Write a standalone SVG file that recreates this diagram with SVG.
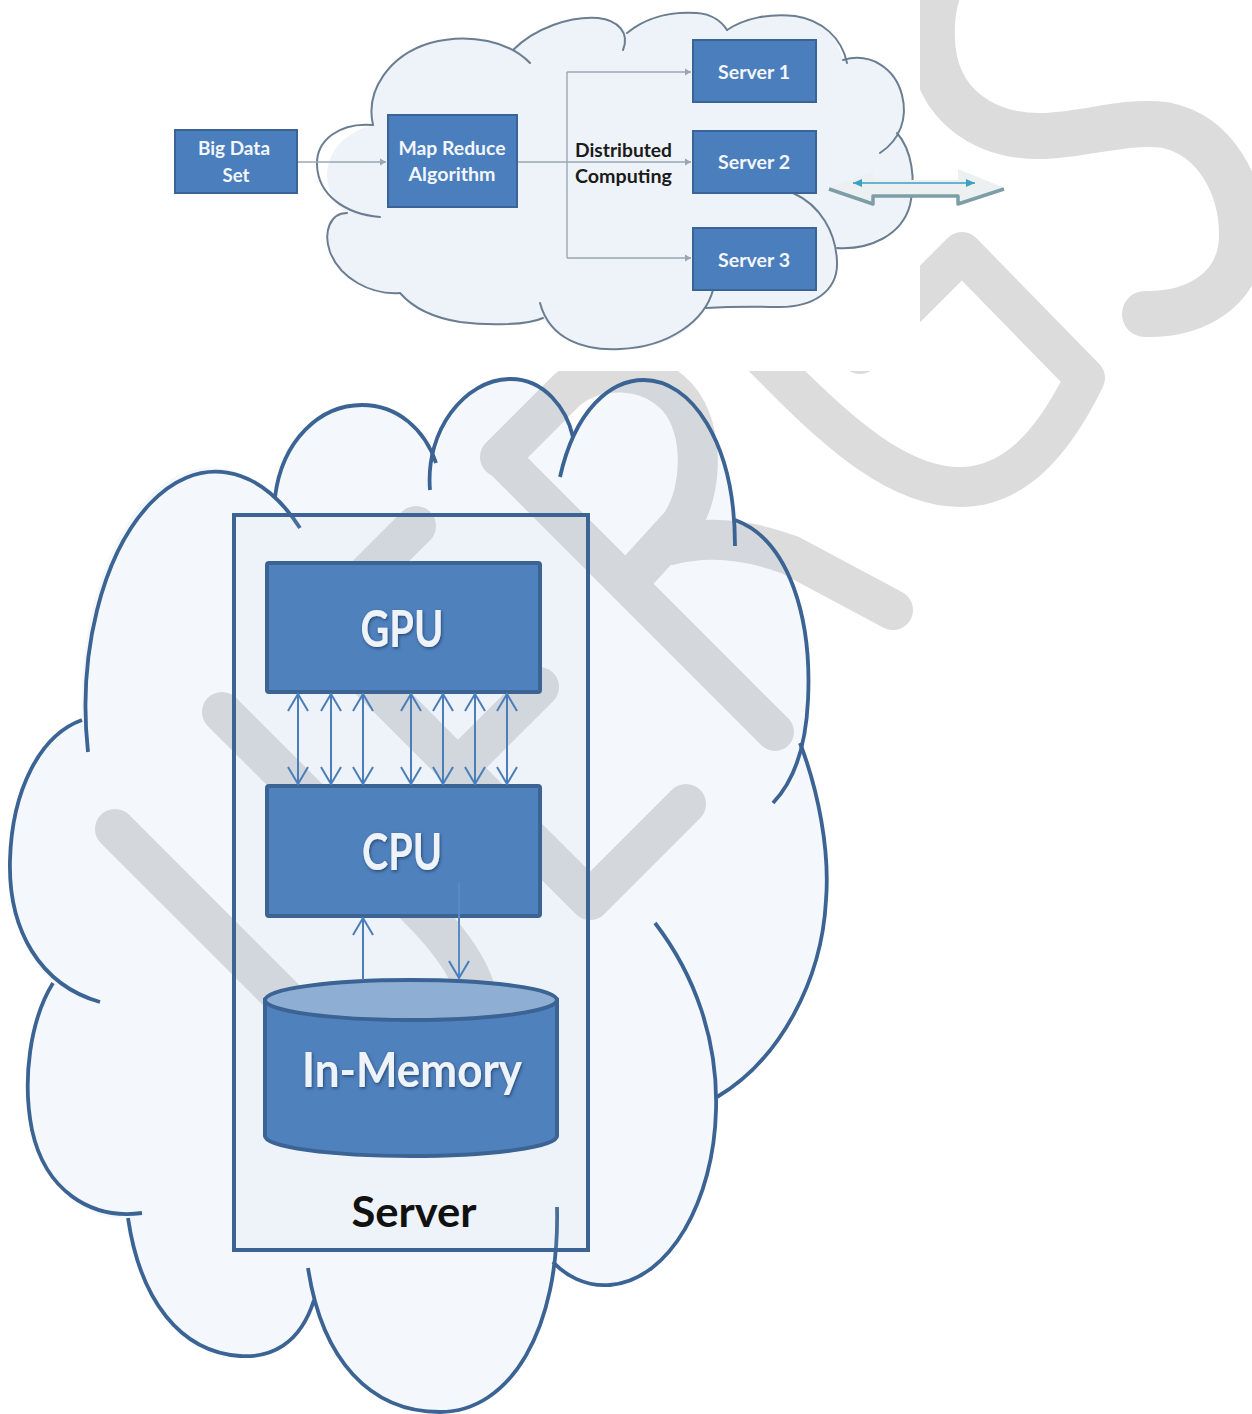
<svg xmlns="http://www.w3.org/2000/svg" width="1252" height="1414" viewBox="0 0 1252 1414">
<defs>
<style>
.wm{fill:none;stroke:#dcdcdc;stroke-width:40;stroke-linecap:round;stroke-linejoin:round}
.tl{fill:none;stroke:#6b7e91;stroke-width:2;stroke-linecap:round}
.tbox{fill:#4a7ebd;stroke:#3a6496;stroke-width:2}
.tt{font-family:Lato,"Liberation Sans",sans-serif;font-weight:700;font-size:18px;fill:#f3f6fb;text-anchor:middle}
.dt{font-family:Lato,"Liberation Sans",sans-serif;font-weight:700;font-size:18px;fill:#1b1b1b}
.conn{fill:none;stroke:#9ba6b1;stroke-width:1.4}
.bc{fill:none;stroke:#3b6494;stroke-width:3.8}
.box{fill:#4f81bd;stroke:#3b6494;stroke-width:4}
.big{font-family:Lato,"Liberation Sans",sans-serif;font-weight:700;fill:#eef3f9;text-anchor:middle}
.arr{fill:none;stroke:#4a7ebb;stroke-width:2}
</style>
<marker id="v" viewBox="-18 -11 20 22" markerWidth="20" markerHeight="22" refX="0" refY="0" orient="auto-start-reverse" markerUnits="userSpaceOnUse"><path d="M-17,-10 L0,0 L-17,10" fill="none" stroke="#4a7ebb" stroke-width="2"/></marker>
<marker id="g" viewBox="-7 -4 8 8" markerWidth="8" markerHeight="8" refX="0" refY="0" orient="auto" markerUnits="userSpaceOnUse"><path d="M-6,-3.5 L0,0 L-6,3.5Z" fill="#9ba6b1"/></marker>
<marker id="t" viewBox="-10 -5 11 10" markerWidth="11" markerHeight="10" refX="0" refY="0" orient="auto-start-reverse" markerUnits="userSpaceOnUse"><path d="M-9,-4 L0,0 L-9,4Z" fill="#3b9fc6"/></marker>
<filter id="sh" x="-20%" y="-30%" width="140%" height="160%"><feDropShadow dx="1" dy="1.5" stdDeviation="1.5" flood-color="#1c355a" flood-opacity="0.75"/></filter>
</defs>
<rect width="1252" height="1414" fill="#ffffff"/>
<g id="watermark">
<path class="wm" d="M115,829 L382,1096"/>
<path class="wm" d="M222,712 L420,910 C470,960 495,1010 470,1050 C452,1078 420,1082 395,1070"/>
<path class="wm" d="M416,526 L316,626 L590,900 L686,804 M458,768 L539,687"/>
<path class="wm" style="stroke-width:38" d="M500,457 L775,732"/>
<path class="wm" d="M500,457 L568,389 C600,365 645,368 672,392 C705,420 705,490 680,525 L630,580"/>
<path class="wm" d="M670,545 C710,535 750,540 790,555 L893,610"/>
<path class="wm" d="M700,294 L780,374 C840,435 900,487 960,487 C1010,487 1050,450 1085,378 L962,252 L860,354"/>
<path class="wm" style="stroke-width:46" d="M990,-60 C945,-45 930,-5 932,40 C934,105 985,138 1045,136 C1090,134 1125,120 1165,125 C1215,135 1242,185 1242,235 C1242,290 1195,315 1145,314"/>
</g>
<rect x="0" y="0" width="920" height="371" fill="#ffffff"/>
<g id="top-cloud">
<path fill="#eef3fa" d="M347,213 C318,195 316,140 373,125 C365,90 390,55 430,43 C470,32 500,40 513,50 C535,28 570,16 598,18 C612,19 622,25 627,33 C645,18 670,11 697,13 C712,14 722,22 727,30 C745,18 770,13 795,16 C822,20 838,38 843,60 C870,52 895,68 902,95 C905,110 902,125 897,133 C912,150 916,180 910,205 C902,230 875,246 837,250 C838,292 812,307 780,307 L706,308 C690,335 660,349 620,349 C585,351 555,338 543,318 C528,325 490,326 460,322 C435,318 413,308 400,293 C370,295 340,278 330,252 C323,232 330,213 347,213 Z"/>
<path class="tl" d="M380,217 C345,214 318,195 317,165 C316,140 340,122 373,125"/>
<path class="tl" d="M373,125 C365,90 390,55 430,43 C470,32 510,42 530,63"/>
<path class="tl" d="M513,50 C535,28 570,16 598,18 C618,20 630,33 623,50"/>
<path class="tl" d="M627,33 C645,18 670,11 697,13 C712,14 722,22 727,30"/>
<path class="tl" d="M727,30 C745,18 770,13 795,16 C822,20 842,38 847,63"/>
<path class="tl" d="M843,60 C870,52 895,68 902,95 C908,118 900,140 880,153"/>
<path class="tl" d="M897,133 C912,150 916,180 910,205 C902,235 870,250 837,248"/>
<path class="tl" d="M793,193 C820,205 836,232 837,262 C838,292 812,307 780,307 C765,307 740,306 706,308"/>
<path class="tl" d="M713,290 C705,320 670,347 620,349 C585,351 550,340 540,303"/>
<path class="tl" d="M543,318 C528,325 490,326 460,322 C435,318 413,308 400,293"/>
<path class="tl" d="M400,293 C370,295 340,278 330,252 C323,232 330,213 347,213"/>
</g>
<g id="top-connectors">
<path class="conn" d="M297,162 L386,162" marker-end="url(#g)"/>
<path class="conn" d="M517,162 L691,162" marker-end="url(#g)"/>
<path class="conn" d="M567,72 L567,258"/>
<path class="conn" d="M567,72 L691,72" marker-end="url(#g)"/>
<path class="conn" d="M567,258 L691,258" marker-end="url(#g)"/>
</g>
<g id="big-data-set">
<rect class="tbox" x="175" y="130" width="122" height="63"/>
<text class="tt" x="234" y="155" textLength="72" lengthAdjust="spacingAndGlyphs">Big Data</text>
<text class="tt" x="236" y="182" textLength="27" lengthAdjust="spacingAndGlyphs">Set</text>
</g>
<g id="map-reduce">
<rect class="tbox" x="388" y="115" width="129" height="92"/>
<text class="tt" x="452" y="155" textLength="107" lengthAdjust="spacingAndGlyphs">Map Reduce</text>
<text class="tt" x="452" y="181" textLength="87" lengthAdjust="spacingAndGlyphs">Algorithm</text>
</g>
<g id="distributed-label">
<text class="dt" x="575" y="157" textLength="97" lengthAdjust="spacingAndGlyphs">Distributed</text>
<text class="dt" x="575" y="183" textLength="97" lengthAdjust="spacingAndGlyphs">Computing</text>
</g>
<g id="server-1">
<rect class="tbox" x="693" y="40" width="123" height="62"/>
<text class="tt" x="754" y="79" textLength="72" lengthAdjust="spacingAndGlyphs">Server 1</text>
</g>
<g id="server-2">
<rect class="tbox" x="693" y="131" width="123" height="62"/>
<text class="tt" x="754" y="169" textLength="72" lengthAdjust="spacingAndGlyphs">Server 2</text>
</g>
<g id="server-3">
<rect class="tbox" x="693" y="228" width="123" height="62"/>
<text class="tt" x="754" y="267" textLength="72" lengthAdjust="spacingAndGlyphs">Server 3</text>
</g>
<g id="double-arrow">
<polygon points="828,188 873,171 873,180 958,180 958,169 1005,188 958,205 958,197 873,197 873,205" fill="#edf0f1"/>
<path d="M829,189 L873,204 L873,196 L958,196 L958,204 L1004,189" fill="none" stroke="#7d9ea7" stroke-width="3.5" stroke-linejoin="round"/>
<path d="M853,183 L975,183" stroke="#3b9fc6" stroke-width="1.6" fill="none" marker-start="url(#t)" marker-end="url(#t)"/>
</g>
<g id="bottom-cloud">
<path fill="#9bbfe3" fill-opacity="0.11" d="M82,720 A130 235 0 0 1 275,497 C282,440 320,405 362,405 C398,405 425,430 434,461 C445,410 475,379 509,379 C545,378 567,410 573,437 C590,400 615,380 644,380 C690,380 733,440 735,520 C790,540 812,620 808,700 C807,720 805,735 800,743 C818,790 830,850 826,900 C822,980 780,1060 717,1097 C716,1200 670,1280 610,1285 C585,1287 565,1275 555,1262 C540,1360 500,1412 440,1412 C370,1412 325,1360 314,1300 C300,1345 270,1358 240,1356 C180,1352 140,1300 128,1218 C90,1222 45,1190 32,1130 C22,1080 30,1020 53,983 C30,960 8,920 10,860 C12,790 40,735 82,720 Z"/>
<path class="bc" d="M88,752 A130 235 0 0 1 300,528"/>
<path class="bc" d="M275,497 C282,440 320,405 362,405 C398,405 425,430 436,463"/>
<path class="bc" d="M430,490 C425,430 465,380 509,379 C545,378 567,410 573,437"/>
<path class="bc" d="M560,477 C575,410 610,380 644,380 C690,380 735,440 735,546"/>
<path class="bc" d="M735,520 C790,540 812,620 808,700 C806,745 795,780 773,803"/>
<path class="bc" d="M800,743 C818,790 830,850 826,900 C822,980 780,1060 717,1097"/>
<path class="bc" d="M655,923 C695,975 718,1040 716,1110 C714,1200 670,1280 610,1285 C585,1287 565,1275 553,1262"/>
<path class="bc" d="M557,1207 C560,1330 510,1412 440,1412 C370,1412 322,1360 308,1268"/>
<path class="bc" d="M314,1300 C300,1345 270,1358 240,1356 C180,1352 140,1300 128,1218"/>
<path class="bc" d="M53,983 C30,1020 22,1080 32,1130 C45,1190 90,1220 142,1213"/>
<path class="bc" d="M82,720 C40,735 12,790 10,860 C8,930 40,985 100,1002"/>
</g>
<g id="server">
<rect x="234" y="515" width="354" height="735" fill="#b8cde4" fill-opacity="0.1" stroke="#3b6494" stroke-width="4"/>
<text x="414" y="1227" font-family="Lato, 'Liberation Sans', sans-serif" font-weight="700" font-size="42" fill="#111111" text-anchor="middle" textLength="125" lengthAdjust="spacingAndGlyphs">Server</text>
</g>
<g id="gpu">
<rect class="box" x="267" y="563" width="273" height="129" rx="2"/>
<text class="big" x="402" y="647" font-size="52" textLength="83" lengthAdjust="spacingAndGlyphs" filter="url(#sh)">GPU</text>
</g>
<g id="cpu">
<rect class="box" x="267" y="786" width="273" height="130" rx="2"/>
<text class="big" x="402" y="870" font-size="52" textLength="80" lengthAdjust="spacingAndGlyphs" filter="url(#sh)">CPU</text>
</g>
<g id="in-memory">
<path class="box" d="M265,1000 L265,1136 A146 20 0 0 0 557,1136 L557,1000 Z"/>
<ellipse cx="411" cy="1000" rx="146" ry="20" fill="#8eaed4" stroke="#3b6494" stroke-width="4"/>
<text class="big" x="412" y="1087" font-size="47" textLength="220" lengthAdjust="spacingAndGlyphs" filter="url(#sh)">In-Memory</text>
</g>
<g id="connectors">
<path class="arr" d="M298,694 L298,784" marker-start="url(#v)" marker-end="url(#v)"/>
<path class="arr" d="M331,694 L331,784" marker-start="url(#v)" marker-end="url(#v)"/>
<path class="arr" d="M363,694 L363,784" marker-start="url(#v)" marker-end="url(#v)"/>
<path class="arr" d="M411,694 L411,784" marker-start="url(#v)" marker-end="url(#v)"/>
<path class="arr" d="M443,694 L443,784" marker-start="url(#v)" marker-end="url(#v)"/>
<path class="arr" d="M475,694 L475,784" marker-start="url(#v)" marker-end="url(#v)"/>
<path class="arr" d="M507,694 L507,784" marker-start="url(#v)" marker-end="url(#v)"/>
<path class="arr" d="M363,980 L363,918" marker-end="url(#v)"/>
<path class="arr" style="stroke:#5a8ac6" d="M459,883 L459,978" marker-end="url(#v)"/>
</g>
</svg>
